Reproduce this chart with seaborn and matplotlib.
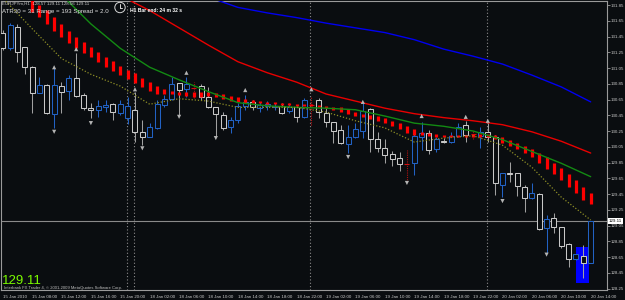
import numpy as np
import pandas as pd
import matplotlib
matplotlib.use("Agg")
import matplotlib.pyplot as plt
from matplotlib.patches import Rectangle, Circle
from matplotlib.lines import Line2D
import seaborn as sns

nan = float("nan")

# EURJPYm H1, 81 bars from 15 Jan 04:00 to 20 Jan 14:00
opens = [131.50, 131.30, 131.57, 131.32, 131.06, 130.73, 130.84, 130.47, 130.82, 130.76,
         130.92, 130.71, 130.54, 130.52, 130.56, 130.59, 130.48, 130.41, 130.52, 130.24,
         130.17, 130.29, 130.58, 130.66, 130.86, 130.78, 130.80, 130.82, 130.68, 130.56,
         130.45, 130.30, 130.39, 130.57, 130.62, 130.54, 130.57, 130.56, 130.57, 130.50,
         130.56, 130.43, 130.58, 130.64, 130.48, 130.37, 130.26, 130.09, 130.17, 130.25,
         130.53, 130.15, 130.03, 129.96, 129.91, 129.83, 129.84, 130.17, 130.22, 130.02,
         130.12, 130.11, 130.19, 130.33, 130.21, 130.19, 130.24, 130.17, 129.56, 129.72,
         129.72, 129.54, 129.40, 129.45, 129.02, 129.15, 129.03, 128.82, 128.63, 128.66,
         128.57]
highs = [131.53, 131.62, 131.61, 131.32, 131.08, 130.94, 130.85, 131.05, 130.87, 130.96,
         131.24, 130.73, 130.61, 130.64, 130.64, 130.60, 130.64, 130.68, 130.75, 130.39,
         130.35, 130.64, 130.71, 130.94, 130.86, 130.94, 130.87, 130.85, 130.81, 130.56,
         130.49, 130.43, 130.61, 130.71, 130.64, 130.62, 130.63, 130.61, 130.61, 130.61,
         130.57, 130.67, 130.70, 130.67, 130.54, 130.37, 130.33, 130.33, 130.35, 130.61,
         130.54, 130.24, 130.15, 130.00, 129.98, 130.01, 130.22, 130.37, 130.26, 130.17,
         130.16, 130.24, 130.35, 130.38, 130.25, 130.30, 130.37, 130.20, 129.72, 129.86,
         129.72, 129.57, 129.59, 129.46, 129.18, 129.21, 129.03, 128.83, 128.69, 128.80,
         129.11]
lows = [131.28, 131.28, 131.13, 130.97, 130.48, 130.73, 130.47, 130.29, 130.48, 130.64,
        130.68, 130.52, 130.41, 130.43, 130.49, 130.39, 130.45, 130.34, 130.11, 130.07,
        130.17, 130.28, 130.55, 130.64, 130.45, 130.68, 130.67, 130.64, 130.54, 130.17,
        130.26, 130.22, 130.35, 130.52, 130.52, 130.49, 130.52, 130.52, 130.47, 130.48,
        130.37, 130.41, 130.33, 130.41, 130.30, 130.10, 130.09, 129.97, 130.16, 130.16,
        129.98, 129.98, 129.84, 129.81, 129.74, 129.60, 129.69, 130.01, 129.96, 129.98,
        130.10, 130.10, 130.17, 130.11, 130.15, 130.03, 130.11, 129.44, 129.41, 129.60,
        129.42, 129.22, 129.39, 128.99, 128.70, 128.96, 128.76, 128.52, 128.61, 128.38,
        128.57]
closes = [131.30, 131.60, 131.25, 131.06, 130.73, 130.84, 130.48, 130.84, 130.75, 130.92,
          130.70, 130.54, 130.52, 130.57, 130.58, 130.49, 130.59, 130.57, 130.24, 130.17,
          130.30, 130.59, 130.66, 130.85, 130.77, 130.85, 130.80, 130.68, 130.56, 130.47,
          130.29, 130.39, 130.57, 130.62, 130.56, 130.58, 130.59, 130.57, 130.48, 130.56,
          130.43, 130.64, 130.58, 130.49, 130.37, 130.25, 130.10, 130.17, 130.28, 130.50,
          130.15, 130.03, 129.95, 129.89, 129.83, 129.83, 130.19, 130.22, 130.01, 130.15,
          130.11, 130.19, 130.30, 130.20, 130.21, 130.24, 130.17, 129.59, 129.72, 129.71,
          129.55, 129.40, 129.46, 129.01, 129.13, 129.03, 128.79, 128.63, 128.69, 128.57,
          129.11]

# red histogram indicator (upper / lower value per bar)
hist_hi = [nan, nan, nan, nan,
           131.91, 131.85, 131.79, 131.70, 131.61, 131.52, 131.44, 131.38, 131.32, 131.25,
           131.19, 131.14, 131.08, 131.03, 130.99, 130.92, 130.87,
           130.82, 130.78, 130.76, 130.75, 130.75, 130.75, 130.75, 130.75, 130.73, 130.72,
           130.70, 130.68, 130.66, 130.64, 130.63, 130.62, 130.62, 130.61, 130.61, 130.59,
           130.59, 130.59, 130.58, 130.57, 130.55, 130.55, 130.53, 130.49, 130.47, 130.45,
           130.44, 130.42, 130.38, 130.35, 130.31, 130.28, 130.24, 130.22, 130.21, 130.20,
           130.20, 130.20, 130.20, 130.21, 130.21, 130.21, 130.20, 130.17, 130.14, 130.10,
           130.06, 130.02, 129.97, 129.92, 129.84, 129.78, 129.70, 129.63, 129.54, 129.46]
hist_lo = [nan, nan, nan, nan,
           131.76, 131.70, 131.61, 131.52, 131.44, 131.37, 131.30, 131.24, 131.19, 131.13,
           131.06, 131.01, 130.96, 130.91, 130.86, 130.81, 130.76,
           130.72, 130.72, 130.72, 130.71, 130.70, 130.68, 130.68, 130.70, 130.68, 130.66,
           130.63, 130.62, 130.61, 130.61, 130.61, 130.59, 130.59, 130.58, 130.58, 130.57,
           130.57, 130.57, 130.55, 130.54, 130.52, 130.49, 130.47, 130.44, 130.43, 130.40,
           130.38, 130.35, 130.31, 130.28, 130.22, 130.20, 130.20, 130.19, 130.17, 130.17,
           130.17, 130.17, 130.17, 130.17, 130.17, 130.17, 130.15, 130.10, 130.06, 130.02,
           129.97, 129.92, 129.84, 129.77, 129.70, 129.63, 129.54, 129.46, 129.37, 129.32]

# moving averages, read every 4 bars
ma_bars = [0, 4, 8, 12, 16, 20, 24, 28, 32, 36, 40, 44, 48, 52, 56, 60, 64, 68, 72, 76, 80]
ma_green = [nan, nan, 131.98, 131.61, 131.30, 131.06, 130.90, 130.75, 130.61, 130.57, 130.55,
            130.54, 130.52, 130.44, 130.35, 130.31, 130.25, 130.14, 129.99, 129.84, 129.67]
ma_red = [nan, nan, nan, nan, 131.97, 131.78, 131.56, 131.34, 131.13, 130.99, 130.87,
          130.72, 130.63, 130.54, 130.47, 130.42, 130.38, 130.33, 130.24, 130.12, 129.97]
ma_blue = [nan, nan, nan, nan, nan, nan, nan, 131.95, 131.82, 131.75, 131.69,
           131.62, 131.56, 131.50, 131.41, 131.29, 131.20, 131.10, 130.96, 130.81, 130.62]
ma_yellow = [131.94, 131.55, 131.17, 130.97, 130.82, 130.59, 130.66, 130.63, 130.55, 130.55, 130.55,
             130.49, 130.38, 130.29, 130.11, 130.16, 130.19, 130.07, 129.79, 129.41, 129.12]

# fractals
frac_up_bars = [7, 10, 18, 25, 33, 42, 49, 57, 63, 66]
frac_up = [131.06, 131.29, 130.78, 130.99, 130.77, 130.78, 130.62, 130.44, 130.43, 130.38]
frac_dn_bars = [7, 12, 19, 24, 29, 47, 55, 68, 74]
frac_dn = [130.24, 130.35, 130.03, 130.43, 130.16, 129.92, 129.59, 129.36, 128.68]

# blue box over the last bars
box_bars = [78, 79.8]
box_prices = [128.32, 128.78]

day_start_bars = [17, 18, 42, 66]
tick_bars = [0, 4, 8, 12, 16, 20, 24, 28, 32, 36, 40, 44, 48, 52, 56, 60, 64, 68, 72, 76, 80]
time_labels = ["15 Jan 2010", "15 Jan 08:00", "15 Jan 12:00", "15 Jan 16:00", "15 Jan 20:00",
               "18 Jan 02:00", "18 Jan 06:00", "18 Jan 10:00", "18 Jan 14:00", "18 Jan 18:00",
               "18 Jan 22:00", "19 Jan 02:00", "19 Jan 06:00", "19 Jan 10:00", "19 Jan 14:00",
               "19 Jan 18:00", "19 Jan 22:00", "20 Jan 02:00", "20 Jan 06:00", "20 Jan 10:00",
               "20 Jan 14:00"]
price_ticks = [128.25, 128.45, 128.65, 128.85, 129.05, 129.25, 129.45, 129.65, 129.85, 130.05,
               130.25, 130.45, 130.65, 130.85, 131.05, 131.25, 131.45, 131.65, 131.85]

BG = "#0a0d10"
BULL = "#2262c4"
BEAR = "#c8c8c8"
WICK = "#a0a0a0"
GRAYLINE = "#9a9a9a"

sns.set_style("dark", {"axes.facecolor": BG, "figure.facecolor": BG})
plt.rcParams["font.family"] = ["Liberation Sans", "DejaVu Sans"]

W, H = 625, 300
fig = plt.figure(figsize=(6.25, 3.0), dpi=100)
ax = fig.add_axes([1 / W, 10 / H, 606 / W, 289 / H])
ax.set_facecolor(BG)
ax.grid(False)


def fpx(x, y):
    return x / W, 1 - y / H


df = pd.DataFrame({"bar": np.arange(len(opens)), "open": opens, "high": highs,
                   "low": lows, "close": closes})

# period separators and current price line
for b in day_start_bars:
    ax.axvline(b - 0.15, color="#8c8c8c", lw=0.8, ls=(0, (1, 2)), zorder=1)
ax.axhline(closes[-1], color="#8a8a8a", lw=0.8, zorder=1)

ax.add_patch(Rectangle((box_bars[0], box_prices[0]), box_bars[1] - box_bars[0],
                       box_prices[1] - box_prices[0], facecolor="#0000ff",
                       edgecolor="none", zorder=1.5))

# candles
hw = 0.34
for r in df.itertuples():
    if r.close == r.open:
        ax.vlines(r.bar, r.low, r.high, color="#b01010", lw=0.8, ls=(0, (1, 1)), zorder=2)
        ax.hlines(r.open, r.bar - hw, r.bar + hw, color="#d01010", lw=0.8, zorder=3)
        continue
    col = BULL if r.close > r.open else BEAR
    wick = BULL if r.close > r.open else WICK
    ax.vlines(r.bar, r.low, r.high, color=wick, lw=0.75, zorder=2)
    lo, hi = min(r.open, r.close), max(r.open, r.close)
    ax.add_patch(Rectangle((r.bar - hw, lo), 2 * hw, hi - lo, facecolor=BG,
                           edgecolor=col, lw=0.75, zorder=3))

# red histogram
hmask = ~np.isnan(np.array(hist_hi))
ax.vlines(df["bar"][hmask], np.array(hist_lo)[hmask], np.array(hist_hi)[hmask],
          color="#ff0000", lw=2.3, zorder=4)

# moving averages
ma = pd.DataFrame({"bar": ma_bars, "green": ma_green, "red": ma_red,
                   "blue": ma_blue, "yellow": ma_yellow})
sns.lineplot(data=ma, x="bar", y="green", color="#138a13", lw=1.0, ax=ax, zorder=5)
sns.lineplot(data=ma, x="bar", y="red", color="#e80000", lw=1.0, ax=ax, zorder=5)
sns.lineplot(data=ma, x="bar", y="blue", color="#0000f0", lw=1.0, ax=ax, zorder=5)
sns.lineplot(data=ma, x="bar", y="yellow", color="#8e8e26", lw=0.9, ls=(0, (1, 1.5)),
             ax=ax, zorder=5)

# fractals
sns.scatterplot(x=frac_up_bars, y=frac_up, marker="^", s=9, color="#b4b4b4",
                edgecolor="none", ax=ax, zorder=6)
sns.scatterplot(x=frac_dn_bars, y=frac_dn, marker="v", s=9, color="#b4b4b4",
                edgecolor="none", ax=ax, zorder=6)

# axes
ax.set_xlim(-0.23, 82.22)
ax.set_ylim(128.231, 131.901)
ax.set_xlabel("")
ax.set_ylabel("")
for s in ax.spines.values():
    s.set_visible(True)
    s.set_color(GRAYLINE)
    s.set_linewidth(0.8)
ax.yaxis.tick_right()
ax.set_yticks(price_ticks)
ax.set_yticklabels([f"{p:.2f}" for p in price_ticks])
ax.tick_params(axis="y", direction="out", length=2, width=0.6, color=GRAYLINE,
               labelcolor="#c8c8c8", labelsize=3.2, pad=0.8)
ax.set_xticks(tick_bars)
ax.set_xticklabels(time_labels, ha="left")
ax.tick_params(axis="x", direction="out", length=2, width=0.6, color=GRAYLINE,
               labelcolor="#c8c8c8", labelsize=3.2, pad=1.5)

# current price label
ax.text(1.003, closes[-1], f"{closes[-1]:.2f}", transform=ax.get_yaxis_transform(),
        fontsize=3.2, color="black", va="center", ha="left", clip_on=False, zorder=10,
        bbox=dict(boxstyle="square,pad=0.25", fc="white", ec="none"))

# texts
fig.text(*fpx(2, 4), "EURJPYm,H1  128.57 129.11 128.56 129.11", fontsize=3.2,
         color="#d0d0d0", va="center", ha="left")
fig.text(*fpx(2, 12), "ATR30 = 31 Range = 193 Spread = 2.0", fontsize=4.4,
         color="#e4e4e4", va="center", ha="left")
fig.text(*fpx(130, 10), "H1 Bar end: 24 m 32 s", fontsize=3.6, fontweight="bold",
         color="white", va="center", ha="left")
fig.text(*fpx(2, 281), "129.11", fontsize=9.5, color="#7cfc00", va="center", ha="left")
fig.text(*fpx(4, 288), "Interbank FX Trader 4, \u00a9 2001-2009 MetaQuotes Software Corp.",
         fontsize=3.0, color="#c0c0c0", va="center", ha="left")

# clock icon
cx, cy = 1.20, 3.0 - 0.075
fig.add_artist(Circle((cx, cy), 0.052, transform=fig.dpi_scale_trans, fill=False,
                      ec="#d8d8d8", lw=0.7))
fig.add_artist(Line2D([cx, cx], [cy, cy + 0.035], transform=fig.dpi_scale_trans,
                      color="#d8d8d8", lw=0.7))
fig.add_artist(Line2D([cx, cx + 0.025], [cy, cy], transform=fig.dpi_scale_trans,
                      color="#d8d8d8", lw=0.7))

fig.savefig("out.png", dpi=100, facecolor=BG)
